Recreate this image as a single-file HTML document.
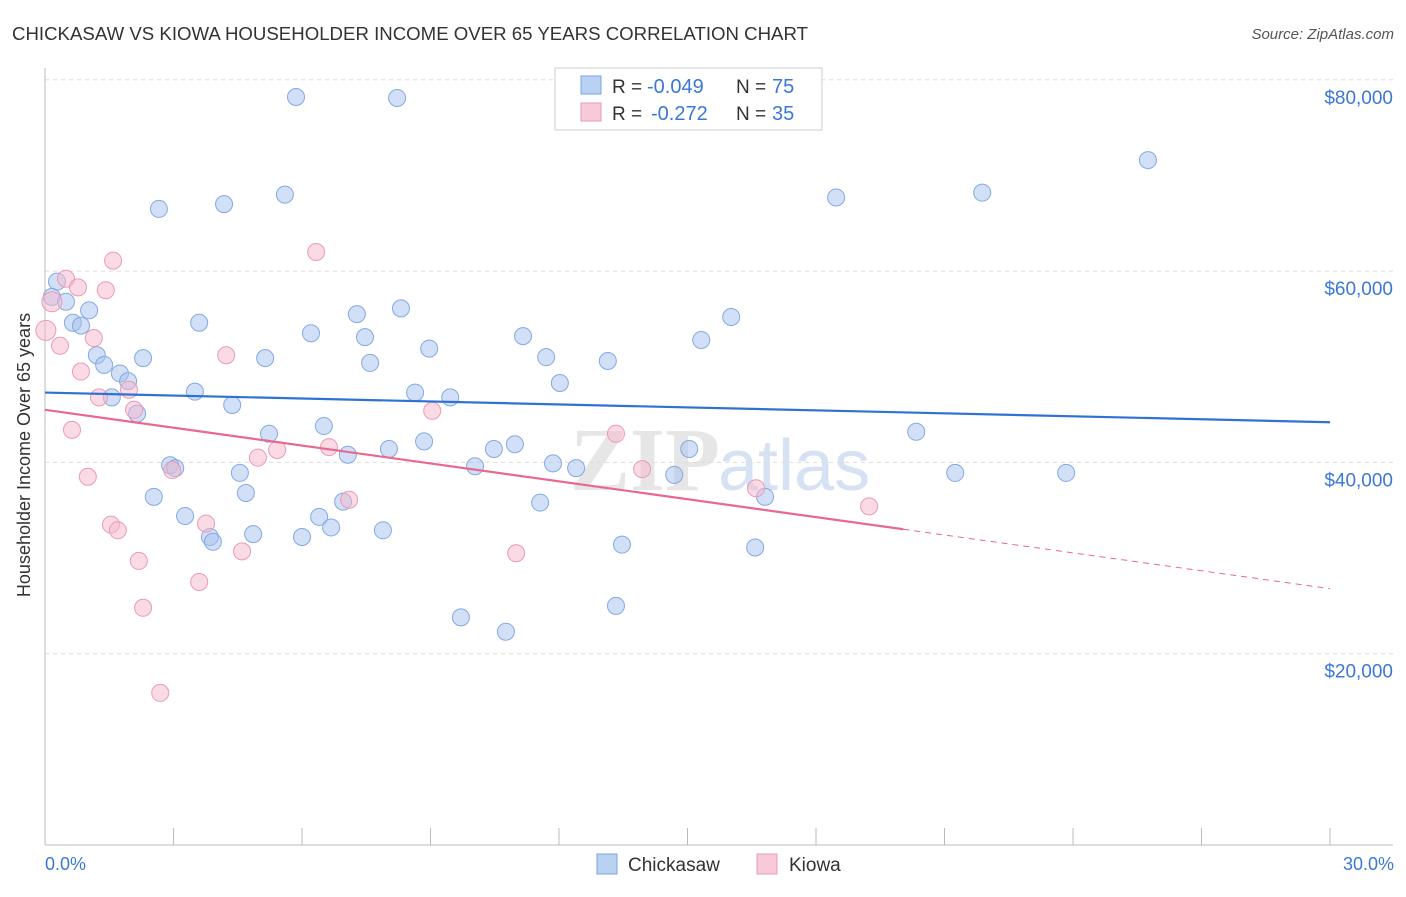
<!DOCTYPE html>
<html><head><meta charset="utf-8"><style>
body{margin:0;background:#fff;font-family:"Liberation Sans",sans-serif;}
</style></head><body>
<svg width="1406" height="892" viewBox="0 0 1406 892" xmlns="http://www.w3.org/2000/svg">
<text x="12" y="40" font-size="18" fill="#333" textLength="796" lengthAdjust="spacingAndGlyphs">CHICKASAW VS KIOWA HOUSEHOLDER INCOME OVER 65 YEARS CORRELATION CHART</text>
<text x="1394" y="39" font-size="15" fill="#555" text-anchor="end" font-style="italic">Source: ZipAtlas.com</text>
<text x="720" y="490" font-size="90" fill="#e6e6e6" text-anchor="end" font-family="Liberation Serif" font-weight="bold">ZIP</text>
<text x="718" y="490" font-size="72" fill="#d6e2f3">atlas</text>
<g id="grid"></g>
<g id="axes"></g>
<g id="points"></g>
<g id="trends"></g>
<text x="30" y="455" font-size="18" fill="#333" text-anchor="middle" transform="rotate(-90 30 455)">Householder Income Over 65 years</text>
<text x="45" y="870" font-size="18" fill="#3b78d6">0.0%</text>
<text x="1394" y="870" font-size="18" fill="#3b78d6" text-anchor="end">30.0%</text>
<g>
<rect x="555" y="68" width="267" height="62" fill="#fff" stroke="#ccc"/>
<rect x="581" y="76" width="20" height="18" fill="#b9d2f3" stroke="#7ba3e0"/>
<rect x="581" y="103" width="20" height="18" fill="#f8c9d8" stroke="#eb9ab5"/>
<text x="612" y="93" font-size="19" fill="#333">R =</text>
<text x="647" y="93" font-size="20" fill="#3b78d6">-0.049</text>
<text x="736" y="93" font-size="19" fill="#333">N =</text>
<text x="772" y="93" font-size="20" fill="#3b78d6">75</text>
<text x="612" y="120" font-size="19" fill="#333">R =</text>
<text x="651" y="120" font-size="20" fill="#3b78d6">-0.272</text>
<text x="736" y="120" font-size="19" fill="#333">N =</text>
<text x="772" y="120" font-size="20" fill="#3b78d6">35</text>
</g>
<g>
<rect x="597" y="854" width="20" height="20" fill="#b9d2f3" stroke="#7ba3e0"/>
<text x="628" y="871" font-size="19" fill="#333">Chickasaw</text>
<rect x="757" y="854" width="20" height="20" fill="#f8c9d8" stroke="#eb9ab5"/>
<text x="789" y="871" font-size="19" fill="#333">Kiowa</text>
</g>
</svg>
<script>
const yTicks=[20,40,60,80];
const yTickLabels=["$20,000","$40,000","$60,000","$80,000"];
const xTicks=[0,3,6,9,12,15,18,21,24,27,30];
const chickX=[5.86,8.22,25.75,18.47,21.88,2.66,4.18,5.60,0.28,0.16,0.49,1.03,0.65,0.84,3.60,7.28,8.31,6.21,7.47,11.16,16.02,15.32,1.21,2.29,5.14,8.97,7.59,11.70,13.14,1.38,1.75,1.94,1.56,3.50,8.64,9.46,12.02,2.15,4.37,6.51,5.23,8.85,8.03,7.07,10.97,10.48,10.04,15.04,20.34,2.92,3.04,4.55,11.86,12.40,14.69,21.25,23.84,2.54,4.69,6.96,11.56,16.81,3.27,6.40,6.68,7.89,3.85,3.92,4.86,6.00,13.47,16.58,13.33,9.71,10.76];
const chickY=[78.2,78.1,71.6,67.7,68.2,66.5,67.0,68.0,58.9,57.3,56.8,55.9,54.6,54.3,54.6,55.5,56.1,53.5,53.1,53.2,55.2,52.8,51.2,50.9,50.9,51.9,50.4,51.0,50.6,50.2,49.3,48.5,46.8,47.4,47.3,46.8,48.3,45.1,46.0,43.8,43.0,42.2,41.4,40.8,41.9,41.4,39.6,41.4,43.2,39.7,39.4,38.9,39.9,39.4,38.7,38.9,38.9,36.4,36.8,35.9,35.8,36.4,34.4,34.3,33.2,32.9,32.2,31.7,32.5,32.2,31.4,31.1,25.0,23.8,22.3];
const kiowaX=[0.02,0.16,0.49,1.59,6.33,0.77,1.42,0.35,1.14,4.23,0.84,1.26,1.96,2.08,9.04,0.63,13.33,6.63,5.42,4.97,13.94,2.97,1.00,16.60,7.10,19.24,1.54,1.70,3.76,4.60,11.00,2.19,3.60,2.29,2.69];
const kiowaY=[53.8,56.8,59.2,61.1,62.0,58.3,58.0,52.2,53.0,51.2,49.5,46.8,47.6,45.5,45.4,43.4,43.0,41.6,41.3,40.5,39.3,39.2,38.5,37.3,36.1,35.4,33.5,32.9,33.6,30.7,30.5,29.7,27.5,24.8,15.9];
const chickTrend=[47.3,44.2];
const kiowaTrend=[45.5,26.8];
const kiowaSolidEnd=20.04;
const NS="http://www.w3.org/2000/svg";
const X=v=>45+v*1285/30, Y=v=>845-v*9.565;
function mk(t,a,p){const e=document.createElementNS(NS,t);for(const k in a)e.setAttribute(k,a[k]);p.appendChild(e);return e;}
const grid=document.getElementById('grid'),axes=document.getElementById('axes'),pts=document.getElementById('points'),tr=document.getElementById('trends');
yTicks.forEach((t,i)=>{
 const l=mk('line',{x1:45,x2:1393,y1:Y(t),y2:Y(t),stroke:'#ddd','stroke-dasharray':'4 4'},grid);
 
 
 const tx=mk('text',{x:1393,y:Y(t)+24,'font-size':19,fill:'#3b78d6','text-anchor':'end'},grid);
 tx.textContent=yTickLabels[i];
 
 
});
const ya=mk('line',{x1:45,x2:45,y1:68,y2:845,stroke:'#bbb'},axes);


const xa=mk('line',{x1:45,x2:1393,y1:845,y2:845,stroke:'#bbb'},axes);


xTicks.forEach(t=>{
 const l=mk('line',{x1:X(t),x2:X(t),y1:828,y2:845,stroke:'#bbb'},axes);
 
 
});
chickX.forEach((x,i)=>{
 const c=mk('circle',{cx:X(x),cy:Y(chickY[i]),r:8.5,fill:'rgba(164,194,238,0.5)',stroke:'#84a9e2','stroke-width':1},pts);
 
 
});
kiowaX.forEach((x,i)=>{
 const c=mk('circle',{cx:X(x),cy:Y(kiowaY[i]),r:i<2?10:8.5,fill:'rgba(246,183,203,0.5)',stroke:'#eb9ab5','stroke-width':1},pts);
 
 
});
const cl=mk('line',{x1:X(0),y1:Y(chickTrend[0]),x2:X(30),y2:Y(chickTrend[1]),stroke:'#2f72d4','stroke-width':2.2},tr);


const kAt=x=>kiowaTrend[0]+(kiowaTrend[1]-kiowaTrend[0])*x/30;
const kl=mk('line',{x1:X(0),y1:Y(kAt(0)),x2:X(kiowaSolidEnd),y2:Y(kAt(kiowaSolidEnd)),stroke:'#e8688f','stroke-width':2.2},tr);


const kd=mk('line',{x1:X(kiowaSolidEnd),y1:Y(kAt(kiowaSolidEnd)),x2:X(30),y2:Y(kAt(30)),stroke:'#e8688f','stroke-width':1,'stroke-dasharray':'6 5'},tr);


</script>
</body></html>
